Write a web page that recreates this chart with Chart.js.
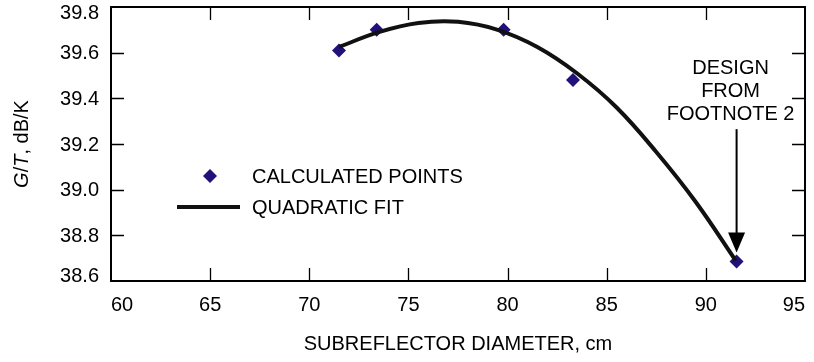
<!DOCTYPE html>
<html>
<head>
<meta charset="utf-8">
<script src="https://cdn.jsdelivr.net/npm/chart.js@4/dist/chart.umd.min.js"></script>
<style>
  html, body { margin: 0; padding: 0; background: #fff; }
  #wrap { width: 814px; height: 362px; }
</style>
</head>
<body>
<div id="wrap"><canvas id="chart"></canvas></div>
<script>
// calculated points
const pointX = [71.5, 73.4, 79.8, 83.3, 91.55];
const pointY = [39.61, 39.70, 39.70, 39.48, 38.685];

// quadratic fit curve, sampled from the figure
const fitX = [71.5, 73.5, 75.5, 77.5, 79.5, 81.5, 83.5, 85.5, 87.5, 89.5, 91.5];
const fitY = [39.625, 39.69, 39.73, 39.735, 39.70, 39.625, 39.51, 39.36, 39.165, 38.945, 38.69];

// axis ranges and tick steps
const xRange = [60, 95];
const xStep = 5;
const yRange = [38.6, 39.8];
const yStep = 0.2;

// annotation: arrow to the footnote design
const arrowX = 91.55;
const arrowFromY = 39.265;
const arrowToY = 38.725;
const noteLines = ['DESIGN', 'FROM', 'FOOTNOTE 2'];

const FONT = '"Liberation Sans", Arial, Helvetica, sans-serif';
const ptColor = '#22117a';

const decorPlugin = {
  id: 'decor',
  afterDraw(chart) {
    const ctx = chart.ctx;
    const a = chart.chartArea;
    const xs = chart.scales.x;
    const ys = chart.scales.y;
    ctx.save();

    // frame
    ctx.strokeStyle = '#000';
    ctx.lineWidth = 2;
    ctx.strokeRect(a.left, a.top, a.right - a.left, a.bottom - a.top);

    // inward ticks on all sides
    ctx.lineWidth = 1.3;
    const tl = 13;
    ctx.beginPath();
    xs.ticks.forEach(t => {
      if (t.value <= xRange[0] || t.value >= xRange[1]) return;
      const px = Math.round(xs.getPixelForValue(t.value)) + 0.5;
      ctx.moveTo(px, a.bottom); ctx.lineTo(px, a.bottom - tl);
      ctx.moveTo(px, a.top); ctx.lineTo(px, a.top + tl);
    });
    ys.ticks.forEach(t => {
      if (t.value <= yRange[0] + 1e-6 || t.value >= yRange[1] - 1e-6) return;
      const py = Math.round(ys.getPixelForValue(t.value)) + 0.5;
      ctx.moveTo(a.left, py); ctx.lineTo(a.left + tl, py);
      ctx.moveTo(a.right, py); ctx.lineTo(a.right - tl, py);
    });
    ctx.stroke();

    // y tick labels (end labels nudged inside like the original)
    ctx.fillStyle = '#000';
    ctx.font = '20px ' + FONT;
    ctx.textBaseline = 'middle';
    ctx.textAlign = 'right';
    ys.ticks.forEach((t, i) => {
      let py = ys.getPixelForValue(t.value);
      if (i === 0) py -= 6;
      if (i === ys.ticks.length - 1) py += 5;
      ctx.fillText(t.value.toFixed(1), a.left - 12, py + 1);
    });

    // legend
    ctx.fillStyle = ptColor;
    const dx = 210, dy = 176, r = 7;
    ctx.beginPath();
    ctx.moveTo(dx, dy - r); ctx.lineTo(dx + r, dy); ctx.lineTo(dx, dy + r); ctx.lineTo(dx - r, dy);
    ctx.closePath(); ctx.fill();
    ctx.strokeStyle = '#111';
    ctx.lineWidth = 4;
    ctx.beginPath(); ctx.moveTo(177, 207); ctx.lineTo(240, 207); ctx.stroke();
    ctx.fillStyle = '#000';
    ctx.textAlign = 'left';
    ctx.fillText('CALCULATED POINTS', 252, 177);
    ctx.fillText('QUADRATIC FIT', 252, 208);

    // arrow and note
    const ax = xs.getPixelForValue(arrowX);
    const ay0 = ys.getPixelForValue(arrowFromY);
    const ay1 = ys.getPixelForValue(arrowToY);
    ctx.strokeStyle = '#000';
    ctx.lineWidth = 2;
    ctx.beginPath(); ctx.moveTo(ax, ay0); ctx.lineTo(ax, ay1 - 18); ctx.stroke();
    ctx.beginPath();
    ctx.moveTo(ax - 8.5, ay1 - 20); ctx.lineTo(ax + 8.5, ay1 - 20); ctx.lineTo(ax, ay1);
    ctx.closePath(); ctx.fill();
    ctx.textAlign = 'center';
    noteLines.forEach((s, i) => ctx.fillText(s, ax - 6, ay0 - 61 + i * 23));

    // x title
    ctx.fillText('SUBREFLECTOR DIAMETER, cm', (a.left + a.right) / 2, 344);

    // y title with italic G and T
    const parts = [['G', true], ['/', false], ['T', true], [', dB/K', false]];
    const fontFor = it => (it ? 'italic ' : '') + '20px ' + FONT;
    let total = 0;
    parts.forEach(p => { ctx.font = fontFor(p[1]); total += ctx.measureText(p[0]).width; });
    ctx.translate(22, (a.top + a.bottom) / 2);
    ctx.rotate(-Math.PI / 2);
    ctx.textAlign = 'left';
    let cx = -total / 2;
    parts.forEach(p => {
      ctx.font = fontFor(p[1]);
      ctx.fillText(p[0], cx, 0);
      cx += ctx.measureText(p[0]).width;
    });
    ctx.restore();
  }
};

document.addEventListener('DOMContentLoaded', function () {
  const ctx = document.getElementById('chart').getContext('2d');
  new Chart(ctx, {
    type: 'scatter',
    data: {
      datasets: [
        {
          label: 'QUADRATIC FIT',
          data: fitX.map((x, i) => ({ x: x, y: fitY[i] })),
          showLine: true,
          borderColor: '#111',
          borderWidth: 4,
          pointRadius: 0,
          tension: 0.4,
          order: 0,
        },
        {
          label: 'CALCULATED POINTS',
          data: pointX.map((x, i) => ({ x: x, y: pointY[i] })),
          pointStyle: 'rectRot',
          pointRadius: 7,
          backgroundColor: ptColor,
          borderColor: ptColor,
          borderWidth: 0,
          order: 1,
        },
      ],
    },
    options: {
      responsive: true,
      maintainAspectRatio: false,
      animation: false,
      layout: { padding: { left: 0, right: 9, top: 7, bottom: 0 } },
      plugins: { legend: { display: false }, tooltip: { enabled: false } },
      scales: {
        x: {
          type: 'linear',
          min: xRange[0],
          max: xRange[1],
          grid: { display: false, drawTicks: false },
          border: { display: false },
          ticks: {
            stepSize: xStep,
            color: '#000',
            padding: 12,
            align: 'inner',
            font: { family: FONT, size: 20 },
          },
          afterFit: s => { s.height = 81; s.paddingLeft = 0; s.paddingRight = 0; },
        },
        y: {
          min: yRange[0],
          max: yRange[1],
          grid: { display: false, drawTicks: false },
          border: { display: false },
          ticks: {
            stepSize: yStep,
            display: false,
          },
          afterFit: s => { s.width = 111; s.paddingTop = 0; s.paddingBottom = 0; },
        },
      },
    },
    plugins: [decorPlugin],
  });
});
</script>
</body>
</html>
